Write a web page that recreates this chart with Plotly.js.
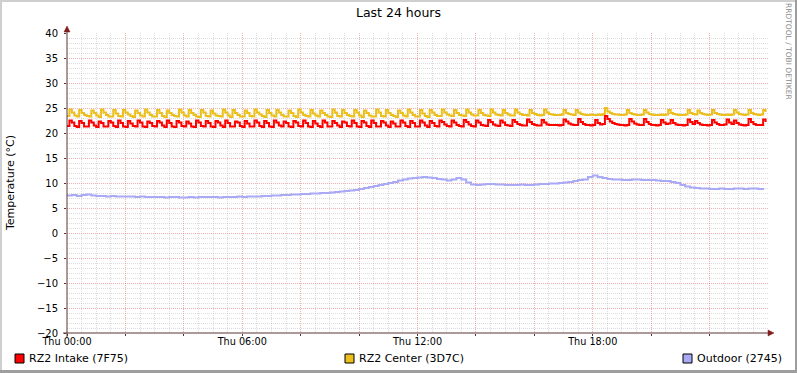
<!DOCTYPE html>
<html>
<head>
<meta charset="utf-8">
<script src="https://cdn.plot.ly/plotly-3.0.1.min.js"></script>
<style>
html,body{margin:0;padding:0;background:#fff;}
#chart{width:797px;height:373px;}
</style>
</head>
<body>
<div id="chart"></div>
<script>
// ---- Data (5-minute samples for the two rack sensors, 10-minute samples for outdoor) ----
const chartTitle = 'Last 24 hours';
const yAxisTitle = 'Temperature (°C)';
const watermark = 'RRDTOOL / TOBI OETIKER';
const seriesNames = ['RZ2 Intake (7F75)', 'RZ2 Center (3D7C)', 'Outdoor (2745)'];
const seriesColors = ['#ff0000', '#ebc01e', '#a9a9f5'];
const xTickVals = [0, 2, 4, 6, 8, 10, 12, 14, 16, 18, 20, 22];
const xTickText = ['Thu 00:00', '', '', 'Thu 06:00', '', '', 'Thu 12:00', '', '', 'Thu 18:00', '', ''];
const intakeStepMin = 5;
const outdoorStepMin = 10;

const intake = [
21.4,22.5,22.1,21.4, 21.2,22.4,22.0,21.3, 21.3,22.5,22.1,21.5, 21.2,22.3,22.0,21.3,
21.3,22.4,22.1,21.4, 21.2,22.5,22.0,21.3, 21.2,22.4,21.9,21.4, 21.3,22.5,22.1,21.3,
21.2,22.3,22.0,21.4, 21.3,22.4,22.1,21.5, 21.2,22.5,22.0,21.3, 21.2,22.4,22.1,21.4,
21.3,22.3,21.9,21.3, 21.2,22.5,22.1,21.4, 21.3,22.4,22.0,21.3, 21.2,22.4,22.1,21.5,
21.2,22.5,22.0,21.3, 21.3,22.3,22.1,21.4, 21.2,22.4,21.9,21.3, 21.3,22.5,22.1,21.4,
21.2,22.4,22.0,21.3, 21.2,22.5,22.1,21.5, 21.3,22.3,22.0,21.3, 21.2,22.4,22.1,21.4,
21.3,22.5,22.0,21.3, 21.2,22.4,21.9,21.4, 21.2,22.5,22.1,21.3, 21.3,22.4,22.0,21.5,
21.2,22.3,22.1,21.4, 21.3,22.5,22.0,21.3, 21.2,22.4,22.1,21.4, 21.2,22.5,22.0,21.3,
21.3,22.4,22.1,21.5, 21.2,22.3,21.9,21.3, 21.3,22.5,22.1,21.4, 21.2,22.4,22.0,21.3,
21.3,22.5,22.1,21.5, 21.2,22.4,22.0,21.4,
21.3,22.5,22.2,21.7,21.4, 21.3,22.5,22.1,21.6,21.4, 21.3,22.6,22.2,21.7,21.4,
21.3,22.5,22.1,21.6,21.5, 21.4,22.6,22.2,21.7,21.5, 21.4,22.5,22.1,21.6,21.5,
21.4,22.6,22.2,21.8,21.6,21.5, 21.5,22.7,22.2,21.8,21.6,21.5, 21.5,22.6,22.1,21.7,21.6,21.6,
21.6,21.6,21.5,21.6,22.7,22.3,21.9,21.7,21.6,21.6,22.8,22.2,21.8,21.6,21.6,21.5,
21.6,22.6,22.0,21.7,21.8,23.4,22.8,22.3,22.0,21.8,21.7,21.6,21.6,21.5,21.6,22.8,
22.3,21.9,21.7,21.6,21.6,22.8,22.2,21.8,21.6,21.6,21.5,21.6,22.6,22.1,21.8,21.9,
22.6,22.0,21.7,21.6,21.6,21.5,21.6,22.7,22.2,21.8,22.4,22.0,21.7,21.6,21.6,21.5,
21.6,22.6,22.1,21.8,21.6,21.6,21.7,22.7,22.1,21.8,22.5,22.0,21.7,21.6,21.5,21.6,
22.8,22.2,21.8,21.6,21.6,21.6,22.7,22.2
];

const center = [
23.4,24.7,24.1,23.5, 23.3,24.6,24.0,23.6,23.4, 23.3,24.5,24.0,23.5, 23.2,24.7,24.1,23.6,23.3,
23.3,24.6,23.9,23.4, 23.3,24.6,24.1,23.7,23.4, 23.2,24.5,24.0,23.5, 23.3,24.7,24.1,23.6,23.3,
23.3,24.6,24.0,23.4, 23.2,24.5,24.0,23.6,23.4, 23.3,24.7,24.1,23.5, 23.3,24.6,24.0,23.6,23.3,
23.2,24.6,24.1,23.4, 23.3,24.5,23.9,23.5,23.4, 23.3,24.7,24.1,23.5, 23.2,24.6,24.0,23.6,23.3,
23.3,24.5,24.0,23.4, 23.3,24.7,24.1,23.7,23.4, 23.2,24.6,24.0,23.5, 23.3,24.6,24.1,23.6,23.3,
23.3,24.5,24.0,23.4, 23.2,24.7,24.1,23.6,23.4, 23.3,24.6,23.9,23.5, 23.3,24.5,24.0,23.6,23.3,
23.2,24.7,24.1,23.4, 23.3,24.6,24.0,23.6,23.4, 23.3,24.6,24.1,23.5, 23.2,24.5,24.0,23.5,23.3,
23.3,24.7,24.1,23.4, 23.3,24.6,24.0,23.6,23.4, 23.2,24.5,24.0,23.5, 23.3,24.7,24.1,23.6,23.3,
23.3,24.6,23.9,23.4, 23.2,24.6,24.1,23.6,23.4,
23.4,24.7,24.1,23.7,23.5, 23.4,24.6,24.0,23.6,23.5, 23.4,24.7,24.1,23.7,23.5,
23.5,24.6,24.0,23.6,23.5, 23.4,24.7,24.1,23.7,23.6, 23.5,24.6,24.0,23.7,23.5,
23.5,24.7,24.1,23.8,23.6,23.6, 23.5,24.6,24.0,23.8,23.6,23.5, 23.6,24.7,24.1,23.8,23.7,23.6,
23.6,23.6,23.7,24.6,24.0,23.8,23.7,23.6,24.6,24.1,23.8,23.7,23.6,23.6,23.7,23.6,
23.6,23.7,23.6,23.8,25.0,24.3,24.0,23.8,23.7,23.7,23.6,23.6,23.7,24.6,24.0,23.8,
23.7,23.6,23.6,23.7,24.6,24.1,23.8,23.7,23.6,23.6,23.6,23.7,23.6,23.7,24.6,24.0,
23.8,23.7,23.6,23.6,23.6,23.7,24.6,24.0,23.8,23.7,24.5,24.0,23.8,23.7,23.6,23.7,
24.6,24.0,23.8,23.7,23.6,23.6,23.7,23.6,23.7,24.6,24.1,23.8,23.7,23.6,23.7,24.6,
24.0,23.8,23.7,23.6,23.7,24.6,24.2
];

const outdoor = [
7.5,7.6,7.4,7.6,7.7,7.5,
7.4,7.4,7.3,7.4,7.3,7.3,
7.3,7.3,7.2,7.3,7.2,7.2,
7.2,7.2,7.1,7.2,7.2,7.1,
7.1,7.2,7.1,7.2,7.2,7.2,
7.2,7.1,7.2,7.2,7.2,7.3,
7.2,7.3,7.3,7.3,7.4,7.4,
7.5,7.5,7.6,7.6,7.7,7.7,
7.8,7.8,7.9,7.9,8.0,8.0,
8.1,8.2,8.3,8.4,8.5,8.6,
8.8,9.0,9.2,9.4,9.6,9.8,
10.0,10.2,10.5,10.7,10.9,11.0,
11.1,11.2,11.1,11.0,10.8,10.7,
10.5,10.7,11.0,10.7,10.1,9.7,
9.6,9.7,9.8,9.8,9.7,9.7,
9.6,9.6,9.6,9.7,9.6,9.6,
9.7,9.8,9.8,9.9,9.9,10.0,
10.1,10.2,10.4,10.6,10.7,11.2,
11.5,11.2,11.0,10.8,10.7,10.7,
10.6,10.6,10.7,10.7,10.6,10.6,
10.6,10.5,10.4,10.4,10.2,10.0,
9.6,9.3,9.1,9.0,8.9,8.9,
8.8,8.8,8.9,8.8,8.8,8.9,
8.9,8.8,8.9,8.9,8.8,8.6
];

// ---- geometry helpers (pixel -> paper) ----
const W = 797, H = 373, L = 67, R = 768, T = 33, B = 333;
const PX = p => (p - L) / (R - L);
const PY = p => (B - p) / (B - T);
const font = 'DejaVu Sans, Verdana, sans-serif';

const hoursOf = (arr, step) => arr.map((_, i) => i * step / 60);

const traces = [
  {x: hoursOf(intake, intakeStepMin), y: intake, name: seriesNames[0]},
  {x: hoursOf(center, intakeStepMin), y: center, name: seriesNames[1]},
  {x: hoursOf(outdoor, outdoorStepMin), y: outdoor, name: seriesNames[2]}
].map((t, i) => Object.assign(t, {
  type: 'scatter', mode: 'lines',
  line: {color: seriesColors[i], width: 2, shape: 'hv'},
  hoverinfo: 'skip'
}));

// minor (half-hour) grid positions that are not on a major 2-hour line
const minorX = [];
for (let k = 1; k < 48; k++) { if (k % 4 !== 0) minorX.push(k / 2); }

const axisCol = '#5a3535';
const arrowCol = '#801f1f';
const majorGrid = 'rgba(222,79,79,0.45)';
const minorGrid = 'rgba(150,150,150,0.32)';

const shapes = [
  // frame (3D shade)
  {type:'line', xref:'paper', yref:'paper', x0:PX(0), x1:PX(W), y0:PY(1), y1:PY(1), line:{color:'#cfcfcf', width:2}},
  {type:'line', xref:'paper', yref:'paper', x0:PX(1), x1:PX(1), y0:PY(0), y1:PY(H), line:{color:'#cfcfcf', width:2}},
  {type:'line', xref:'paper', yref:'paper', x0:PX(0), x1:PX(W), y0:PY(371.5), y1:PY(371.5), line:{color:'#9e9e9e', width:3}},
  {type:'line', xref:'paper', yref:'paper', x0:PX(796), x1:PX(796), y0:PY(0), y1:PY(H), line:{color:'#9e9e9e', width:2}},
  // axes
  {type:'line', xref:'paper', yref:'paper', x0:PX(63), x1:PX(769), y0:0, y1:0, line:{color:axisCol, width:1}},
  {type:'line', xref:'paper', yref:'paper', x0:0, x1:0, y0:PY(337), y1:PY(30), line:{color:axisCol, width:1}},
  {type:'path', xref:'paper', yref:'paper', path:`M ${PX(768)} ${PY(330)} L ${PX(774)} ${PY(333)} L ${PX(768)} ${PY(336)} Z`, fillcolor:arrowCol, line:{color:arrowCol, width:0.5}},
  {type:'path', xref:'paper', yref:'paper', path:`M ${PX(64)} ${PY(32)} L ${PX(67)} ${PY(26)} L ${PX(70)} ${PY(32)} Z`, fillcolor:arrowCol, line:{color:arrowCol, width:0.5}}
];

const legendX = [15, 345, 683];
const annotations = [
  {text: watermark, xref:'paper', yref:'paper', x:PX(789), y:PY(51), xanchor:'center', yanchor:'middle', textangle:90, showarrow:false, font:{family:font, size:7.5, color:'#8c8c8c'}},
  {text: yAxisTitle, xref:'paper', yref:'paper', x:PX(10), y:PY(183), xanchor:'center', yanchor:'middle', textangle:-90, showarrow:false, font:{family:font, size:11, color:'#000'}}
];
seriesNames.forEach((n, i) => {
  shapes.push({type:'rect', xref:'paper', yref:'paper', x0:PX(legendX[i]), x1:PX(legendX[i]+9), y0:PY(354), y1:PY(363), fillcolor:seriesColors[i], line:{color:'#000', width:1}});
  annotations.push({text:n, xref:'paper', yref:'paper', x:PX(legendX[i]+13), y:PY(358.5), xanchor:'left', yanchor:'middle', showarrow:false, borderpad:0, font:{family:font, size:11, color:'#000'}});
});

const layout = {
  width: W, height: H,
  margin: {l: L, r: W - R, t: T, b: H - B, pad: 0},
  paper_bgcolor: '#ffffff', plot_bgcolor: '#ffffff',
  showlegend: false,
  title: {text: chartTitle, x: 0.5, xref: 'container', y: 1 - 13/H, yref: 'container', xanchor: 'center', yanchor: 'middle', font: {family: font, size: 12.5, color: '#000'}},
  xaxis: {
    range: [0, 24], tickmode: 'array', tickvals: xTickVals, ticktext: xTickText,
    showgrid: true, gridcolor: majorGrid, griddash: '1px,1px', gridwidth: 1,
    zeroline: false, showline: false,
    ticks: 'outside', ticklen: 2, tickcolor: axisCol, ticklabelstandoff: -3,
    tickfont: {family: font, size: 9.7, color: '#000'},
    minor: {tickmode: 'array', tickvals: minorX, showgrid: true, gridcolor: minorGrid, griddash: '1px,1px', gridwidth: 1, ticks: ''},
    fixedrange: true
  },
  yaxis: {
    range: [-20, 40], tickmode: 'linear', tick0: 0, dtick: 5,
    showgrid: true, gridcolor: majorGrid, griddash: '1px,1px', gridwidth: 1,
    zeroline: false, showline: false,
    ticks: 'outside', ticklen: 2, tickcolor: axisCol, ticklabelstandoff: 4,
    tickfont: {family: font, size: 10, color: '#000'},
    minor: {tickmode: 'linear', tick0: 0, dtick: 1, showgrid: true, gridcolor: minorGrid, griddash: '1px,1px', gridwidth: 1, ticks: ''},
    fixedrange: true
  },
  shapes: shapes,
  annotations: annotations
};

Plotly.newPlot('chart', traces, layout, {staticPlot: true, displayModeBar: false});
</script>
</body>
</html>
